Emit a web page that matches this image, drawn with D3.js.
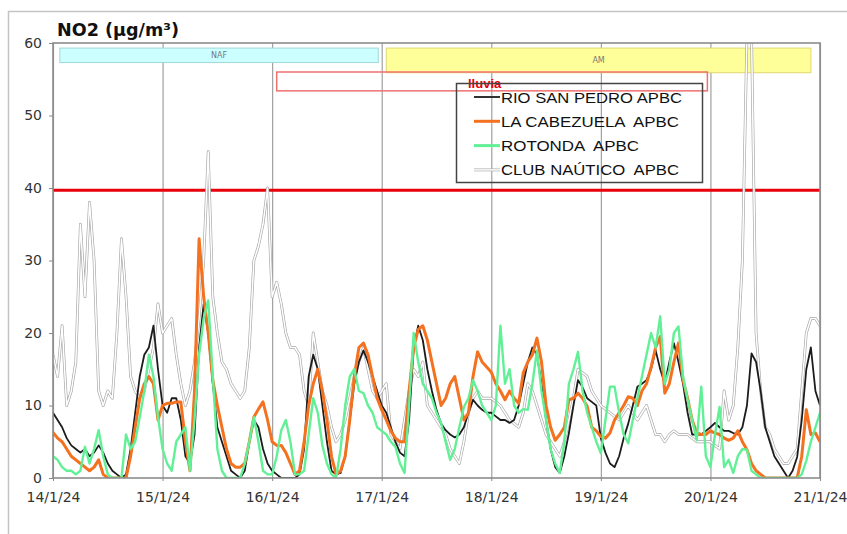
<!DOCTYPE html>
<html lang="es">
<head>
<meta charset="UTF-8">
<title>NO2</title>
<style>
  body { margin: 0; background: #fff; }
  svg { display: block; }
  .axis text { font-family: "DejaVu Sans", sans-serif; font-size: 14px; fill: #333; }
  .axis path { display: none; }
  .axis line { stroke: #888; }
  .grid line { stroke: #a0a0a0; stroke-width: 1.2px; }
  .grid path { display: none; }
  .title { font-family: "DejaVu Sans", sans-serif; font-size: 17px; font-weight: bold; fill: #111; }
  .legend-text { font-family: "Liberation Sans", Arial, sans-serif; font-size: 15px; fill: #111; white-space: pre; }
  .band-text { font-family: "DejaVu Sans", sans-serif; font-size: 8px; fill: #777; text-anchor: middle; }
  .line { fill: none; stroke-linejoin: round; }
</style>
</head>
<body>
<script src="https://cdn.jsdelivr.net/npm/d3@7"></script>
<script>
// hourly values, 14/1/24 00:00 .. 21/1/24 00:00 (169 points)
const rioSanPedro = [
  9,8,7,5.5,4.5,4,3.5,4,3,3.5,4.5,3.5,2,1,0.5,0,0.5,4,9,14,17,18,21,15,
  10,9,11,11,8,3,2,6,18,24,20,13,7,5,3,1,0.5,0,1,5,8,7,4,2,
  1,0.5,0,0,0,0,0.5,4,14,17,15,10,5,1,0.5,0.7,3,8,13,16,17.6,16,14,12,
  10,9,7,5,3.5,3,8,18,21,19,15,12,9.4,7.5,6.6,6,5.6,6,7,9,10.8,10,9.4,9,
  9,8.5,8,8,7.6,8,10,13,16,18,17,13,8,4,1.5,0.7,3,6.2,10,13.5,12.5,11,10.5,10,
  5.5,3.5,2,1.5,3,5.5,7.5,10,12.6,13,13.5,15,17.6,15,13,16,18.6,16,13,9,6,6,6,6.5,
  7,7.6,7,6.5,6.5,6.2,6,7,10,17.2,16,12,7,5,3,2,1,0,1,2.9,8,15,18,12,10
];
const laCabezuela = [
  6.3,5.5,5,4,3,2.5,2,1.5,1,1.5,2.5,0.5,0,0,0,0,0,3,7,11,13,14,13,8,
  10,10.3,10.3,10.5,10.5,5,1,12,33,25,20,13.5,10,7,4,2,1.5,1.5,2,5,8.4,9.5,10.5,8,
  5,4.5,4.5,3.5,2,0.5,1,5,10,13,15,12,8,3,0.5,1,3,8,14,18,18.6,17,14,11,
  9.4,8,6.5,5.5,5,5,12,18,20.5,21,19,16,13,10,11,13,14,11,8,9,14,17.4,16,15.3,
  14.6,13,12,10.8,12,11,10.3,14.5,16,17,19.3,16,10,7,5.2,6,7,10.8,11,11.7,11,9.9,7,6.5,
  5.7,5.5,6.2,8,9,10,11.2,11,10,12,13,15.3,18,19.5,11.7,13,16,18.6,13.5,11,8,6.2,6,6,
  6.5,6.2,6,5.5,5.2,5.5,6.5,5,3.9,2,1,0.5,0,0,0,0,0,0,0,0,3,9.4,6,6.2,5
];
const rotonda = [
  3,2.5,1.5,1,1,0.5,1,4.3,2,4,6.6,3,0.5,0,0,0,6,4,5,8.4,12,17,14,8.4,
  4,2,1,5,6,7,1,8,17,22,24.5,14,4,1,0,0,0,0,2,5,8.4,5,1,0.5,
  0.5,3,6.6,8,5,0.5,0.5,1,6,11,9,4.5,2,0.5,0,4,10,14,15,12,11.7,10,9,7,
  6.5,6,5,4.3,2,0.7,10,20,16,13,12,11,9,7.6,5,2.5,4,7,9.8,11,13.5,12,10,9,
  8,10,21,13,15,10,9,9.5,9.4,13,17.6,12,8,4,2,0.7,5,13,15,17.4,12,9,7,5,
  3.4,8,12.6,12.6,9,6,4.8,8,11,14,17,20,18,22.3,13,15,20,20.9,14,10.8,8,5.2,12.6,3,
  1.5,6,9.8,1.5,2.5,0.7,3,4,3.9,1,0.5,0,0,0,0,0,0,0,0,0,0.5,2.4,5,7,9
];
const clubNautico = [
  17,14,21,10,12,16,35,25,38,30,12,10,12,11,20,33,25,14,12,11,12,15,18,24,
  20,21,22,17,13,10,12,16,22,30,45,25,20,16,15,13,12,11,12,18,30,32,35,40,
  25,27,24,20,18,18,17,12,10,20,16,12,10,7,5,6,8,11,14,16,18,15,12,11,
  12,13,6,5,4,8,12,15,14,16,10,9,8,7,6,4,3,2,5,9,11,12,11,11,
  11,10.5,10,9,8,7.5,7,9,13,12,10,8,6,5,4,3,5,8,11,15,14.5,14,12,11,
  10,9.5,9,8.5,8,9,10,9,8,9,10,8,6,6,5,6,6.5,6,6,6,5.5,5,5,5,
  5,4.5,4,12,8,10,18,30,61,61,20,12,7,6,4,3,2,2,3,4,12,20,22,22,21
];

const seriesNames = ['RIO SAN PEDRO APBC', 'LA CABEZUELA  APBC', 'ROTONDA  APBC', 'CLUB NAÚTICO  APBC'];
const yTicks = [0, 10, 20, 30, 40, 50, 60];
const limitValue = 39.7;

const bandNames = ['NAF', 'AM'];
const bandFrom = ['2024-01-14T01:30', '2024-01-17T01:00'];
const bandTo = ['2024-01-16T23:15', '2024-01-20T22:00'];
const rainLabel = 'lluvia';
const rainFrom = '2024-01-16T01:00';
const rainTo = '2024-01-19T23:20';

const start = new Date(2024, 0, 14);
const dates = rioSanPedro.map((_, i) => d3.timeHour.offset(start, i));
const parse = d3.timeParse('%Y-%m-%dT%H:%M');

const W = 847, H = 534;
const plotLeft = 53, plotRight = 820, plotTop = 43, plotBottom = 478;

const x = d3.scaleTime()
  .domain([start, d3.timeDay.offset(start, 7)])
  .range([plotLeft, plotRight]);
const y = d3.scaleLinear()
  .domain([0, 60])
  .range([plotBottom, plotTop]);

const svg = d3.select('body').append('svg')
  .attr('width', W)
  .attr('height', H);

svg.append('rect')
  .attr('width', W).attr('height', H)
  .attr('fill', '#fff');

// outer chart border
svg.append('rect')
  .attr('x', 8.5).attr('y', 11.5)
  .attr('width', 900).attr('height', 600)
  .attr('fill', 'none')
  .attr('stroke', '#c4c4c4')
  .attr('stroke-width', 1.5);

svg.append('clipPath').attr('id', 'plot')
  .append('rect')
  .attr('x', plotLeft).attr('y', plotTop)
  .attr('width', plotRight - plotLeft).attr('height', plotBottom - plotTop);

// vertical day gridlines
svg.append('g')
  .attr('class', 'grid')
  .attr('transform', `translate(0, ${plotBottom})`)
  .call(d3.axisBottom(x).ticks(d3.timeDay.every(1)).tickSize(-(plotBottom - plotTop)).tickFormat(''));

// notes bands (NAF / AM)
const bandColors = ['#ccffff', '#ffff99'];
const bandStroke = ['#9fd8d8', '#e0d870'];
const bandY = [[59.3, 57.3], [59.3, 55.9]];
bandNames.forEach((name, i) => {
  const x0 = x(parse(bandFrom[i])), x1 = x(parse(bandTo[i]));
  svg.append('rect')
    .attr('x', x0).attr('y', y(bandY[i][0]))
    .attr('width', x1 - x0).attr('height', y(bandY[i][1]) - y(bandY[i][0]))
    .attr('fill', bandColors[i])
    .attr('stroke', bandStroke[i]);
  svg.append('text')
    .attr('class', 'band-text')
    .attr('x', (x0 + x1) / 2)
    .attr('y', (y(bandY[i][0]) + y(bandY[i][1])) / 2 + 3)
    .text(name);
});

// rain box
const r0 = x(parse(rainFrom)), r1 = x(parse(rainTo));
svg.append('rect')
  .attr('x', r0).attr('y', y(56))
  .attr('width', r1 - r0).attr('height', y(53.4) - y(56))
  .attr('fill', 'none')
  .attr('stroke', '#f07070')
  .attr('stroke-width', 1.5);

// limit line
svg.append('line')
  .attr('x1', plotLeft).attr('x2', plotRight)
  .attr('y1', y(limitValue)).attr('y2', y(limitValue))
  .attr('stroke', '#e8000b')
  .attr('stroke-width', 3);

const line = values => d3.line()
  .x((d, i) => x(dates[i]))
  .y(d => y(d))(values);

const plot = svg.append('g').attr('clip-path', 'url(#plot)');

// club nautico: white line with grey edges
plot.append('path')
  .attr('class', 'line')
  .attr('d', line(clubNautico))
  .attr('stroke', '#a6a6a6')
  .attr('stroke-width', 2.8);
plot.append('path')
  .attr('class', 'line')
  .attr('d', line(clubNautico))
  .attr('stroke', '#fff')
  .attr('stroke-width', 1.5);

plot.append('path')
  .attr('class', 'line')
  .attr('d', line(rioSanPedro))
  .attr('stroke', '#1c1c1c')
  .attr('stroke-width', 1.8);

plot.append('path')
  .attr('class', 'line')
  .attr('d', line(laCabezuela))
  .attr('stroke', '#f47120')
  .attr('stroke-width', 3);

plot.append('path')
  .attr('class', 'line')
  .attr('d', line(rotonda))
  .attr('stroke', '#62f097')
  .attr('stroke-width', 2.4);

// plot frame
svg.append('rect')
  .attr('x', plotLeft).attr('y', plotTop)
  .attr('width', plotRight - plotLeft).attr('height', plotBottom - plotTop)
  .attr('fill', 'none')
  .attr('stroke', '#8c8c8c')
  .attr('stroke-width', 1.6);

// axes
svg.append('g')
  .attr('class', 'axis')
  .attr('transform', `translate(${plotLeft}, 0)`)
  .call(d3.axisLeft(y).tickValues(yTicks).tickSize(4).tickPadding(7));

svg.append('g')
  .attr('class', 'axis')
  .attr('transform', `translate(0, ${plotBottom})`)
  .call(d3.axisBottom(x).ticks(d3.timeDay.every(1)).tickSize(3).tickPadding(11)
    .tickFormat(d3.timeFormat('%-d/%-m/%y')));

svg.append('text')
  .attr('class', 'title')
  .attr('x', 57).attr('y', 36)
  .attr('textLength', 122)
  .attr('lengthAdjust', 'spacingAndGlyphs')
  .text('NO2 (µg/m³)');

svg.append('text')
  .attr('x', 468).attr('y', 88)
  .attr('font-family', 'Liberation Sans, Arial, sans-serif')
  .attr('font-size', 13)
  .attr('font-weight', 'bold')
  .attr('fill', '#e8000b')
  .text(rainLabel);

// legend
const legend = svg.append('g');
legend.append('rect')
  .attr('x', 456.5).attr('y', 83.5)
  .attr('width', 246).attr('height', 99)
  .attr('fill', 'none')
  .attr('stroke', '#444')
  .attr('stroke-width', 1.5);

const legendStroke = [['#1c1c1c', 1.8], ['#f47120', 3], ['#62f097', 3], ['#a6a6a6', 2.8]];
const legendWidth = [181, 178, 138, 178];
seriesNames.forEach((name, i) => {
  const ly = 97 + i * 24.3;
  legend.append('line')
    .attr('x1', 474).attr('x2', 500)
    .attr('y1', ly).attr('y2', ly)
    .attr('stroke', legendStroke[i][0])
    .attr('stroke-width', legendStroke[i][1]);
  if (i === 3) {
    legend.append('line')
      .attr('x1', 474).attr('x2', 500)
      .attr('y1', ly).attr('y2', ly)
      .attr('stroke', '#fff')
      .attr('stroke-width', 1.5);
  }
  legend.append('text')
    .attr('class', 'legend-text')
    .attr('x', 501).attr('y', ly + 5.5)
    .attr('textLength', legendWidth[i])
    .attr('lengthAdjust', 'spacingAndGlyphs')
    .text(name);
});
</script>
</body>
</html>
